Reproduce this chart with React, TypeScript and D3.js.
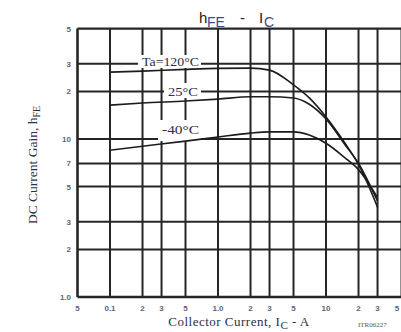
import React, { useRef, useEffect } from 'react';
import * as d3 from 'd3';

// collector current (A) sample points, shared by all three curves
const currents = [0.1, 0.2, 0.5, 1, 2, 3, 5, 7, 10, 15, 20, 30];
const hfe120 = [26.5, 26.9, 27.6, 28.0, 28.1, 27.3, 22.0, 18.2, 13.8, 9.4, 6.9, 3.7];
const hfe25 = [16.4, 16.9, 17.4, 17.9, 18.5, 18.5, 18.2, 16.6, 13.4, 9.2, 7.0, 4.05];
const hfeM40 = [8.5, 9.0, 9.7, 10.3, 10.9, 11.1, 11.1, 10.6, 9.4, 7.6, 6.4, 4.25];

const xTickValues = [0.05, 0.1, 0.2, 0.3, 0.5, 1, 2, 3, 5, 10, 20, 30, 50];
const xTickLabels = ['5', '0.1', '2', '3', '5', '1.0', '2', '3', '5', '10', '2', '3', '5'];
const yTickValues = [1, 2, 3, 5, 7, 10, 20, 30, 50];
const yTickLabels = ['1.0', '2', '3', '5', '7', '10', '2', '3', '5'];

const curveLabels = [
  { text: 'Ta=120°C', x: 142, y: 66, len: 57, box: [138, 55, 63, 13] },
  { text: '25°C', x: 168, y: 96, len: 30, box: [164, 83, 37, 15] },
  { text: '-40°C', x: 162, y: 134, len: 37, box: [158, 120, 43, 21] },
];

export default function App() {
  const svgRef = useRef<SVGSVGElement>(null);

  useEffect(() => {
    document.body.style.margin = '0';
    const svg = d3.select(svgRef.current);
    svg.selectAll('*').remove();

    const width = 401;
    const height = 332;
    svg.attr('viewBox', `0 0 ${width} ${height}`);

    const x = d3.scaleLog().domain([0.05, 50]).range([77.5, 401.5]);
    const y = d3.scaleLog().domain([1, 50]).range([297, 28.6]);
    const grid = '#262626';
    const tickColor = '#5f6478';
    const serif = '"Liberation Serif", "DejaVu Serif", serif';
    const sans = '"Liberation Sans", Arial, sans-serif';

    svg.append('rect').attr('width', width).attr('height', height).attr('fill', 'white');

    // Grid
    const g = svg.append('g');
    g.selectAll('.hgrid').data(yTickValues).enter().append('line')
      .attr('x1', x(0.05)).attr('x2', x(50))
      .attr('y1', (d) => y(d)).attr('y2', (d) => y(d))
      .attr('stroke', grid).attr('stroke-width', (d) => (d === 1 || d === 50 ? 2.4 : 2));
    g.selectAll('.vgrid').data(xTickValues).enter().append('line')
      .attr('x1', (d) => x(d)).attr('x2', (d) => x(d))
      .attr('y1', y(50)).attr('y2', y(1))
      .attr('stroke', grid).attr('stroke-width', (d) => (d === 0.05 ? 2.6 : 2));

    // White patches behind the temperature labels
    curveLabels.forEach((l) => {
      g.append('rect')
        .attr('x', l.box[0]).attr('y', l.box[1])
        .attr('width', l.box[2]).attr('height', l.box[3])
        .attr('fill', 'white');
    });

    // Curves
    const line = d3.line<number>()
      .x((_, i) => x(currents[i]))
      .y((d) => y(d))
      .curve(d3.curveMonotoneX);

    [hfe120, hfe25, hfeM40].forEach((s) => {
      g.append('path').datum(s).attr('d', line)
        .attr('fill', 'none').attr('stroke', '#1c1c1c').attr('stroke-width', 1.6);
    });

    curveLabels.forEach((l) => {
      g.append('text')
        .attr('x', l.x).attr('y', l.y)
        .attr('font-family', serif).attr('font-size', 12.5)
        .attr('textLength', l.len).attr('lengthAdjust', 'spacingAndGlyphs')
        .attr('fill', '#2b3048')
        .text(l.text);
    });

    // Tick labels
    svg.selectAll('.xt').data(xTickValues).enter().append('text')
      .attr('x', (d) => Math.min(x(d), 397)).attr('y', 311)
      .attr('text-anchor', 'middle')
      .attr('font-family', sans).attr('font-size', 8).attr('font-weight', 'bold')
      .attr('fill', tickColor)
      .text((_, i) => xTickLabels[i]);

    svg.selectAll('.yt').data(yTickValues).enter().append('text')
      .attr('x', 71).attr('y', (d) => y(d) + 3)
      .attr('text-anchor', 'end')
      .attr('font-family', sans).attr('font-size', 8).attr('font-weight', 'bold')
      .attr('fill', tickColor)
      .text((_, i) => yTickLabels[i]);

    // Title
    const title = svg.append('text')
      .attr('y', 23)
      .attr('font-family', sans).attr('font-size', 15).attr('fill', '#222');
    title.append('tspan').attr('x', 199).text('h');
    title.append('tspan').attr('x', 207).attr('dy', 4).attr('font-size', 14).attr('fill', '#3b4a8a').text('FE');
    title.append('tspan').attr('x', 240).attr('dy', -4).text('-');
    title.append('tspan').attr('x', 259).text('I');
    title.append('tspan').attr('x', 264).attr('dy', 4).attr('font-size', 14).attr('fill', '#3b4a8a').text('C');

    // Axis titles
    const xt = svg.append('text')
      .attr('x', 239).attr('y', 326).attr('text-anchor', 'middle')
      .attr('font-family', serif).attr('font-size', 13).attr('letter-spacing', 0.5)
      .attr('fill', '#2b3048');
    xt.append('tspan').text('Collector Current, I');
    xt.append('tspan').attr('dy', 3).attr('font-size', 11).text('C');
    xt.append('tspan').attr('dy', -3).text('  -  A');

    const yt = svg.append('text')
      .attr('transform', 'translate(37,165) rotate(-90)').attr('text-anchor', 'middle')
      .attr('font-family', serif).attr('font-size', 13.5).attr('fill', '#2b3048');
    yt.append('tspan').text('DC Current Gain, h');
    yt.append('tspan').attr('dy', 3).attr('font-size', 10).text('FE');

    svg.append('text')
      .attr('x', 358).attr('y', 327)
      .attr('font-family', serif).attr('font-size', 7).attr('fill', '#555')
      .text('ITR06227');
  }, []);

  return <svg ref={svgRef} width={401} height={332} style={{ display: 'block' }} />;
}
